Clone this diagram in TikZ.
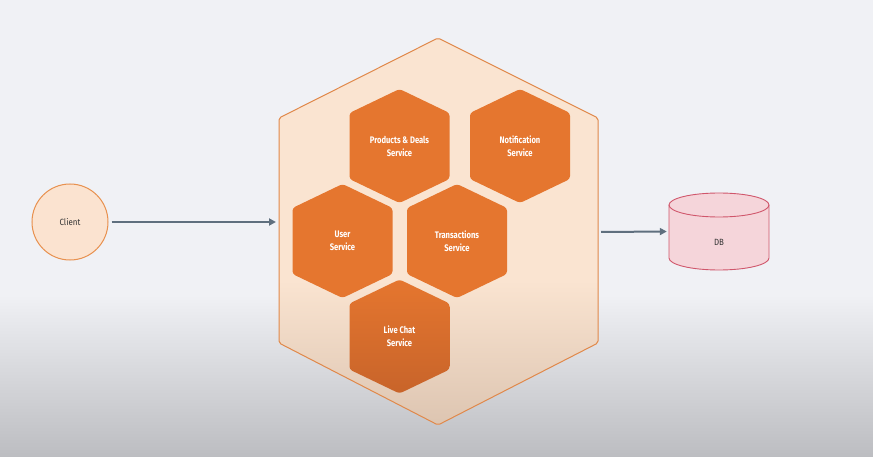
\documentclass[tikz,border=0pt]{standalone}
\usepackage{fontspec}
\setmainfont{Fira Sans}
\newfontfamily\svcfont[FakeStretch=0.8]{Fira Sans}
\newfontfamily\plainfont[FakeStretch=0.88]{Fira Sans}
\usetikzlibrary{arrows.meta}
\definecolor{bgtop}{HTML}{F0F1F5}
\definecolor{bgbot}{HTML}{BCBDC1}
\definecolor{bigfilltop}{HTML}{FAE4D1}
\definecolor{bigfillbot}{HTML}{DCC4B0}
\definecolor{bigline}{HTML}{E0884A}
\definecolor{svc}{HTML}{E5762F}
\definecolor{svcdark}{HTML}{C8642A}
\definecolor{clientfill}{HTML}{FBE3D0}
\definecolor{clientline}{HTML}{E8914F}
\definecolor{dbfill}{HTML}{F5D5DA}
\definecolor{dbline}{HTML}{D0566B}
\definecolor{arrowc}{HTML}{5F6F7E}
\definecolor{txt}{HTML}{333333}
\tikzset{
  svchex/.style={fill=svc, rounded corners=3pt},
  svclabel/.style={text=white, font=\svcfont\fontsize{9.5}{13}\selectfont\bfseries, align=center},
  plainlabel/.style={text=txt, font=\plainfont\fontsize{9}{10}\selectfont},
  conn/.style={draw=arrowc, line width=2pt, -{Triangle[length=7pt,width=7pt]}},
}
\newcommand{\hexpath}[2]{(#1,#2-57) -- (#1+50,#2-33) -- (#1+50,#2+33) -- (#1,#2+57) -- (#1-50,#2+33) -- (#1-50,#2-33) -- cycle}
\newcommand{\bighex}{(438,38) -- (598,118) -- (598,343) -- (438,425) -- (279,343) -- (279,118) -- cycle}
\begin{document}
\begin{tikzpicture}[x=1pt,y=-1pt]
\useasboundingbox (0,0) rectangle (873,457);
% background
\fill[bgtop] (0,0) rectangle (873,295);
\shade[top color=bgtop, bottom color=bgbot] (0,294.5) rectangle (873,457);
% big hexagon
\fill[bigfilltop] \bighex;
\begin{scope}
  \clip \bighex;
  \shade[top color=bigfilltop, bottom color=bigfillbot] (270,280) rectangle (610,430);
\end{scope}
\draw[bigline, line width=1pt, rounded corners=2pt] \bighex;
\coordinate (bigL) at (276,222);
\coordinate (bigR) at (601,232);
% services
\fill[svchex] \hexpath{399.5}{146};
\fill[svchex] \hexpath{520}{146};
\fill[svchex] \hexpath{342.5}{241};
\fill[svchex] \hexpath{457}{241};
\shade[top color=svc, bottom color=svcdark, rounded corners=3pt] \hexpath{399.5}{336.5};
\node[svclabel] (prod) at (399.5,146) {Products \& Deals\\Service};
\node[svclabel] (notif) at (520,146) {Notification\\Service};
\node[svclabel] (user) at (342.5,241) {User\\Service};
\node[svclabel] (trans) at (457,241) {Transactions\\Service};
\node[svclabel] (chat) at (399.5,336.5) {Live Chat\\Service};
% client
\node[circle, draw=clientline, fill=clientfill, line width=1pt, minimum size=76pt, inner sep=0pt,
  plainlabel] (client) at (70,222) {Client};
% DB
\fill[dbfill] (669,205) -- (669,258) arc[start angle=180, end angle=360, x radius=50, y radius=-12] -- (769,205) arc[start angle=0, end angle=180, x radius=50, y radius=-12] -- cycle;
\draw[dbline, line width=0.9pt] (669,205) -- (669,258) arc[start angle=180, end angle=360, x radius=50, y radius=-12] -- (769,205);
\draw[dbline, line width=0.9pt] (719,205) ellipse[x radius=50, y radius=12];
\node[minimum width=104pt, minimum height=77pt, inner sep=0pt] (db) at (719,231.5) {};
\node[plainlabel] (dblabel) at (719,242) {DB};
% connectors
\draw[conn] (client.east) ++(3,0) coordinate (clientR) (clientR) -- (bigL);
\draw[conn] (bigR) -- (db.west);
\end{tikzpicture}
\end{document}
